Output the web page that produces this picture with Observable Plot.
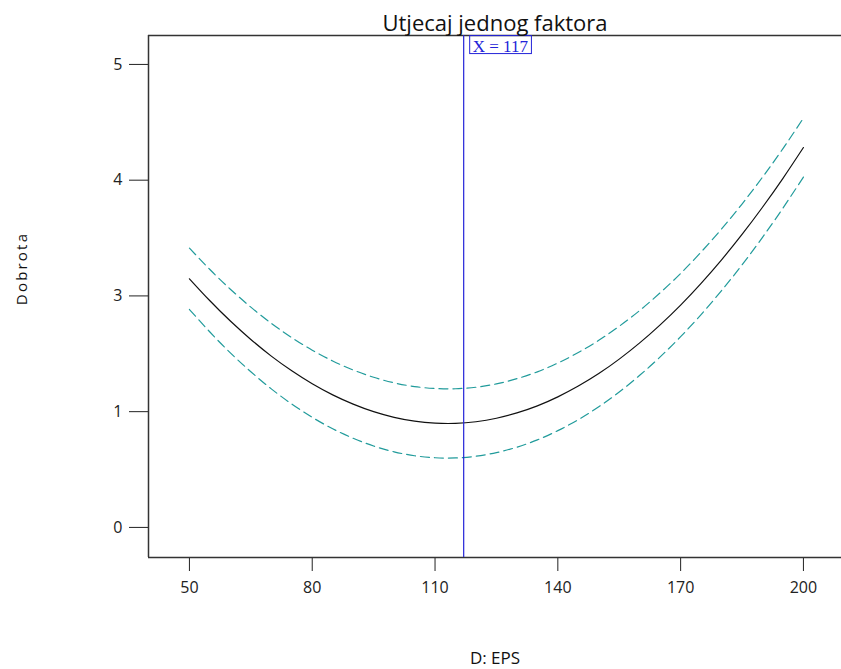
<!DOCTYPE html>
<html><head><meta charset="utf-8">
<script src="https://cdn.jsdelivr.net/npm/d3@7"></script>
<script src="https://cdn.jsdelivr.net/npm/@observablehq/plot@0.6"></script>
<style>
body{margin:0;background:#fff}
.ylab text{letter-spacing:2.2px}
</style>
</head><body><div id="chart"></div>
<script>
// D: EPS values
const eps = [50,55,60,65,70,75,80,85,90,95,100,105,110,115,120,125,130,135,140,145,150,155,160,165,170,175,180,185,190,195,200];
// predicted response (axis tick-position units)
const center = [2.148,1.958,1.783,1.624,1.480,1.353,1.241,1.145,1.065,1.000,0.951,0.918,0.901,0.899,0.913,0.943,0.989,1.050,1.128,1.221,1.329,1.454,1.594,1.750,1.921,2.109,2.312,2.531,2.766,3.016,3.282];
const upper  = [2.413,2.228,2.058,1.903,1.763,1.640,1.531,1.438,1.360,1.297,1.249,1.217,1.200,1.198,1.211,1.240,1.285,1.344,1.420,1.511,1.616,1.738,1.874,2.027,2.194,2.379,2.578,2.794,3.026,3.273,3.537];
const lower  = [1.883,1.688,1.508,1.345,1.197,1.066,0.951,0.852,0.770,0.703,0.653,0.619,0.602,0.600,0.615,0.646,0.693,0.756,0.836,0.931,1.042,1.170,1.314,1.473,1.648,1.839,2.046,2.268,2.506,2.759,3.027];
const yTickPos = [0,1,2,3,4];
const yTickLabels = ["0","1","3","4","5"];
const xTicks = [50,80,110,140,170,200];
const markerX = 117;
const title = "Utjecaj jednog faktora";
const xLabel = "D: EPS";
const yLabel = "Dobrota";

const rows = ys => eps.map((x, i) => ({x, y: ys[i]}));
const xDomain = [40, 209.3];
const yDomain = [-0.26, 4.25];
const teal = "#219b9b";
const blue = "#2323d8";

const plot = Plot.plot({
  width: 841, height: 669,
  marginLeft: 148, marginRight: 0, marginTop: 35, marginBottom: 112,
  style: {fontFamily: "'Open Sans', sans-serif", background: "#fff", color: "#222"},
  x: {domain: xDomain},
  y: {domain: yDomain},
  marks: [
    Plot.axisY({ticks: yTickPos, tickFormat: d => yTickLabels[yTickPos.indexOf(d)], tickSize: 19, tickPadding: 7, fontSize: 16, label: null}),
    Plot.axisX({ticks: xTicks, tickSize: 14, tickPadding: 10, fontSize: 16, label: null}),
    Plot.ruleX([xDomain[0]], {stroke: "#333", strokeWidth: 1.5}),
    Plot.ruleY(yDomain, {stroke: "#333", strokeWidth: 1.5}),
    Plot.line(rows(upper), {x: "x", y: "y", stroke: teal, strokeWidth: 1.2, strokeDasharray: "9,5", curve: "natural"}),
    Plot.line(rows(lower), {x: "x", y: "y", stroke: teal, strokeWidth: 1.2, strokeDasharray: "9,5", curve: "natural"}),
    Plot.line(rows(center), {x: "x", y: "y", stroke: "#111", strokeWidth: 1.2, curve: "natural"}),
    Plot.ruleX([markerX], {stroke: blue, strokeWidth: 1.2}),
    Plot.text([markerX], {x: d => d, text: d => `X = ${d}`, frameAnchor: "top", textAnchor: "start", lineAnchor: "top", dx: 9, dy: 4, fill: blue, fontFamily: "'Liberation Serif', serif", fontSize: 17, className: "mlab"}),
    Plot.text([title], {text: d => d, frameAnchor: "top", lineAnchor: "bottom", dy: -5, fontSize: 22, fill: "#111"}),
    Plot.text([xLabel], {text: d => d, frameAnchor: "bottom", dy: 106, fontSize: 17, fill: "#111"}),
    Plot.text([yLabel], {text: d => d, frameAnchor: "left", textAnchor: "middle", rotate: -90, dx: -126, dy: -28, fontSize: 15, fill: "#111", className: "ylab"})
  ]
});
document.getElementById("chart").append(plot);

// box around the marker label
const t = plot.querySelector(".mlab text");
if (t) {
  const bb = t.getBBox();
  const r = document.createElementNS("http://www.w3.org/2000/svg", "rect");
  r.setAttribute("x", bb.x - 3);
  r.setAttribute("y", bb.y - 1);
  r.setAttribute("width", bb.width + 6);
  r.setAttribute("height", bb.height - 1);
  r.setAttribute("fill", "none");
  r.setAttribute("stroke", blue);
  r.setAttribute("stroke-width", 1);
  const g = t.closest("g");
  const tr = t.getAttribute("transform");
  if (tr) r.setAttribute("transform", tr);
  g.insertBefore(r, t);
}
</script>
</body></html>
